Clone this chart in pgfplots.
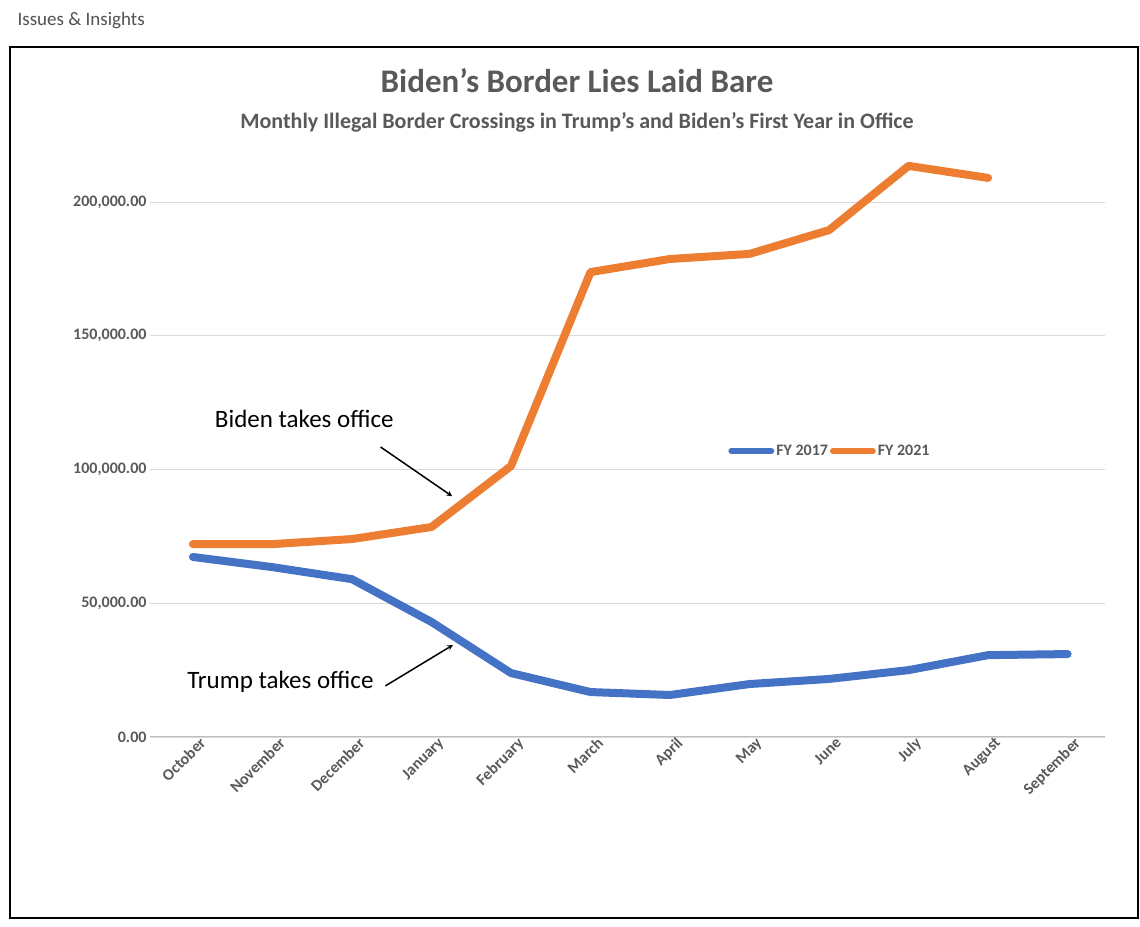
\documentclass[border=0pt]{standalone}
\usepackage{pgfplots}
\pgfplotsset{compat=1.18}
\usepackage{fontspec}
\setmainfont{Carlito}
\definecolor{cblue}{HTML}{4472C4}
\definecolor{corange}{HTML}{ED7D31}
\definecolor{tgray}{HTML}{595959}
\begin{document}
\begin{tikzpicture}
\path (0pt,0pt) rectangle (1140pt,926pt);
\draw[line width=2pt] (10pt,8pt) rectangle (1138pt,879pt);
\node[anchor=west,font=\fontsize{19}{22}\selectfont,text=tgray!90!black] at (14pt,905pt) {Issues \& Insights};
\node[font=\fontsize{33}{38}\selectfont\bfseries,text=tgray] at (577pt,845pt) {Biden's Border Lies Laid Bare};
\node[font=\fontsize{22}{26}\selectfont\bfseries,text=tgray] at (577pt,804pt) {Monthly Illegal Border Crossings in Trump's and Biden's First Year in Office};
\begin{axis}[at={(150pt,189pt)},anchor=south west,scale only axis,width=955pt,height=588.5pt,
  xmin=-0.54,xmax=11.47,ymin=0,ymax=220000,
  axis line style={draw=none},
  axis x line*=bottom,
  ytick={0,50000,100000,150000,200000},
  ymajorgrids,grid style={gray!30,line width=0.8pt},
  yticklabel style={/pgf/number format/fixed,/pgf/number format/precision=2,/pgf/number format/fixed zerofill,/pgf/number format/1000 sep={,},/pgf/number format/assume math mode=true,
    font=\fontsize{16}{19}\selectfont\bfseries,text=tgray},
  scaled y ticks=false,
  xtick={0,...,11},
  xticklabels={October,November,December,January,February,March,April,May,June,July,August,September},
  xticklabel style={rotate=45,anchor=north east,xshift=8pt,font=\fontsize{16}{19}\selectfont\bfseries,text=tgray},
  major tick length=0pt,
  legend style={at={(0.712,0.486)},anchor=center,draw=none,fill=none,font=\fontsize{16}{19}\selectfont\bfseries,text=tgray},
  legend columns=2,
  legend image code/.code={\draw[#1,line width=6pt] (0,0) -- (1.4cm,0);},
  clip=false]
\draw[gray!50,line width=1pt] (axis cs:-0.54,0) -- (axis cs:11.47,0);
\addplot[cblue,line width=8pt,line join=round,line cap=round] coordinates {
(0,67300)(1,63500)(2,59000)(3,43000)(4,23900)(5,16800)(6,15700)(7,19800)(8,21700)(9,25000)(10,30600)(11,31000)};
\addlegendentry{FY 2017}
\addplot[corange,line width=8pt,line join=round,line cap=round] coordinates {
(0,72100)(1,72100)(2,74000)(3,78500)(4,101300)(5,173800)(6,178700)(7,180600)(8,189500)(9,213500)(10,209000)};
\addlegendentry{FY 2021}
\node[font=\fontsize{25}{30}\selectfont] at (axis cs:1.40,118900) {Biden takes office};
\draw[-stealth,line width=1.5pt] (axis cs:2.36,108400) -- (axis cs:3.26,90000);
\node[font=\fontsize{25}{30}\selectfont] at (axis cs:1.10,20600) {Trump takes office};
\draw[-stealth,line width=1.5pt] (axis cs:2.42,19100) -- (axis cs:3.27,34400);
\end{axis}
\end{tikzpicture}
\end{document}
